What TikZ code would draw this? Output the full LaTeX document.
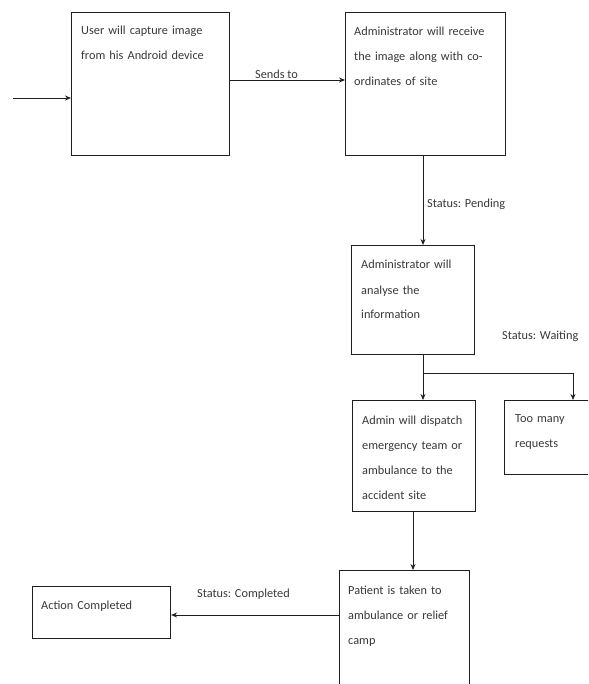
\documentclass[tikz,border=0pt]{standalone}
\usepackage{fontspec}
\setmainfont{Carlito}
\usetikzlibrary{arrows.meta}
\definecolor{txtc}{gray}{0.22}
\definecolor{linec}{gray}{0.12}
\tikzset{
  box/.style={draw=linec, line width=1.1pt, rectangle, inner sep=0pt, anchor=north west},
  txt/.style={text=txtc, font=\fontsize{12.3}{25}\selectfont, inner sep=0pt, anchor=base west, align=left},
  lbl/.style={text=txtc, font=\fontsize{12.3}{25}\selectfont, inner sep=0pt, anchor=base west},
  arr/.style={draw=linec, line width=0.9pt, -{Stealth[length=6pt,width=5pt]}},
  ln/.style={draw=linec, line width=0.9pt}
}
\begin{document}
\begin{tikzpicture}[x=1pt,y=-1pt]
\useasboundingbox (0,0) rectangle (588,684);
\clip (0,0) rectangle (588,684);
% boxes
\node[box, minimum width=158pt, minimum height=143pt] (b1) at (71,12) {};
\node[box, minimum width=160pt, minimum height=143pt] (b2) at (345,12) {};
\node[box, minimum width=123pt, minimum height=109pt] (b3) at (351,245) {};
\node[box, minimum width=123pt, minimum height=111pt] (b4) at (352,400) {};
\node[box, minimum width=100pt, minimum height=74pt] (b5) at (504,400) {};
\node[box, minimum width=130pt, minimum height=130pt] (b6) at (339,570) {};
\node[box, minimum width=138pt, minimum height=52pt] (b7) at (32,586) {};
% texts
\node[txt, text width=145pt] (t1) at (81,35) {User will capture image\\from his Android device};
\node[txt, text width=150pt] (t2) at (354,36) {Administrator will receive\\the image along with co-\\ordinates of site};
\node[txt, text width=115pt] (t3) at (361,269) {Administrator will\\analyse the\\information};
\node[txt, text width=115pt] (t4) at (362,424) {Admin will dispatch\\emergency team or\\ambulance to the\\accident site};
\node[txt, text width=80pt] (t5) at (515,422) {Too many\\requests};
\node[txt, text width=120pt] (t6) at (348,594) {Patient is taken to\\ambulance or relief\\camp};
\node[txt, text width=130pt] (t7) at (41,609) {Action Completed};
% labels
\node[lbl] (l1) at (255,79) {Sends to};
\node[lbl] (l2) at (427,208) {Status: Pending};
\node[lbl] (l3) at (502,339) {Status: Waiting};
\node[lbl] (l4) at (197,597) {Status: Completed};
% connectors
\coordinate (in) at (13,98);
\draw[arr] (in) -- (in -| b1.west);
\coordinate (s1) at (229,80);
\draw[arr] (s1) -- (s1 -| b2.west);
\coordinate (s2) at (423,155);
\draw[arr] (s2) -- (s2 |- b3.north);
\coordinate (s3) at (423,354);
\coordinate (br) at (423,373);
\coordinate (br2) at (573,373);
\draw[ln] (s3) -- (br) -- (br2);
\draw[arr] (br) -- (br |- b4.north);
\draw[arr] (br2) -- (br2 |- b5.north);
\coordinate (s4) at (413,511);
\draw[arr] (s4) -- (s4 |- b6.north);
\coordinate (s5) at (339,615);
\draw[arr] (s5) -- (s5 -| b7.east);
\end{tikzpicture}
\end{document}
